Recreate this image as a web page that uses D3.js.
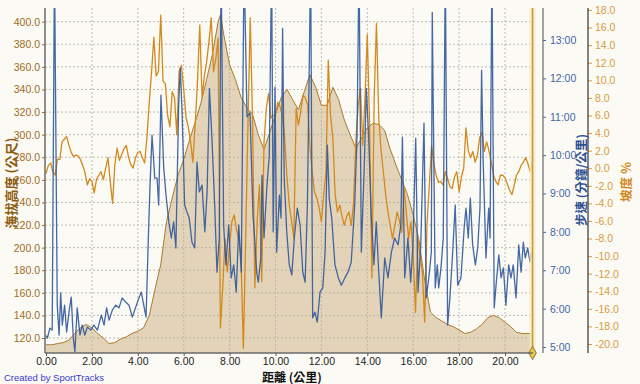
<!DOCTYPE html>
<html>
<head>
<meta charset="utf-8">
<script src="https://cdn.jsdelivr.net/npm/d3@7"></script>
<style>
  body { margin: 0; background: #fbfaf5; }
  svg { display: block; }
</style>
</head>
<body>
<div id="chart"></div>
<script>
// tick values / labels
const distTicks = [0, 2, 4, 6, 8, 10, 12, 14, 16, 18, 20];
const altTicks = [120, 140, 160, 180, 200, 220, 240, 260, 280, 300, 320, 340, 360, 380, 400];
const paceTicks = [5, 6, 7, 8, 9, 10, 11, 12, 13];
const paceTickLabels = ['5:00', '6:00', '7:00', '8:00', '9:00', '10:00', '11:00', '12:00', '13:00'];
const gradeTicks = [-20, -18, -16, -14, -12, -10, -8, -6, -4, -2, 0, 2, 4, 6, 8, 10, 12, 14, 16, 18];

// elevation profile [km, m]
const elevation = [[0,114],[0.25,114],[0.5,115],[0.75,116],[1,118],[1.25,124],[1.5,129],[1.75,132],[2,129],[2.25,124],[2.5,120],[2.75,115],[3,116],[3.25,119],[3.5,121],[3.75,124],[4,126],[4.25,129],[4.5,140],[4.75,163],[5,185],[5.25,223],[5.5,244],[5.75,264],[6,278],[6.25,295],[6.5,311],[6.75,328],[7,349],[7.25,371],[7.5,400],[7.6,406],[7.75,388],[8,362],[8.25,349],[8.5,333],[8.75,324],[9,318],[9.25,300],[9.5,287],[9.75,302],[10,318],[10.25,333],[10.5,340],[10.75,331],[11,322],[11.25,338],[11.5,353],[11.75,342],[12,326],[12.25,326],[12.5,342],[12.75,331],[13,313],[13.25,300],[13.5,288],[13.75,297],[14,306],[14.25,310],[14.5,309],[14.75,304],[15,287],[15.25,273],[15.5,260],[15.75,247],[16,229],[16.25,207],[16.5,171],[16.75,143],[17,138],[17.25,135],[17.5,132],[17.75,130],[18,127],[18.25,124],[18.5,125],[18.75,128],[19,132],[19.25,138],[19.5,140],[19.75,138],[20,134],[20.25,130],[20.5,125],[20.75,124],[21,124],[21.2,124]];

// pace [km, min/km]
const pace = [[0.00,5.30],[0.06,5.23],[0.17,5.49],[0.27,5.44],[0.37,15],[0.49,6.09],[0.57,5.31],[0.64,6.41],[0.71,5.57],[0.81,6.09],[0.90,5.39],[1.00,5.91],[1.10,6.30],[1.19,5.23],[1.26,4.87],[1.36,6.02],[1.48,5.31],[1.58,5.57],[1.69,5.31],[1.80,5.52],[1.95,5.44],[2.09,5.57],[2.24,5.44],[2.41,5.83],[2.53,5.57],[2.64,6.02],[2.75,5.70],[2.89,5.96],[3.04,6.09],[3.18,6.02],[3.32,6.28],[3.47,6.17],[3.62,6.09],[3.76,5.78],[3.91,6.04],[4.05,6.28],[4.15,6.43],[4.24,6.15],[4.36,5.78],[4.46,7.86],[4.53,9.17],[4.62,10.52],[4.74,9.40],[4.84,9.40],[4.91,8.70],[5.01,11.56],[5.13,9.66],[5.23,8.96],[5.35,8.26],[5.46,7.84],[5.56,8.26],[5.66,7.58],[5.78,11.30],[5.85,12.27],[5.93,11.12],[6.04,8.70],[6.14,8.52],[6.24,8.36],[6.36,7.73],[6.48,7.58],[6.58,9.82],[6.68,9.04],[6.80,9.22],[6.92,8.00],[7.02,9.04],[7.12,11.74],[7.23,10.44],[7.35,8.70],[7.45,6.95],[7.55,7.84],[7.63,15],[7.74,8.18],[7.84,7.14],[7.96,8.18],[8.07,6.80],[8.18,7.14],[8.29,6.43],[8.40,8.18],[8.51,6.95],[8.63,15],[8.76,11.00],[8.89,11.10],[9.02,8.44],[9.11,7.66],[9.18,6.95],[9.25,6.69],[9.36,7.32],[9.41,9.48],[9.50,7.84],[9.62,9.14],[9.73,10.00],[9.83,15],[9.90,8.00],[9.98,11.77],[10.05,7.47],[10.17,8.96],[10.24,8.36],[10.31,13.30],[10.38,9.40],[10.49,8.00],[10.60,7.14],[10.71,6.88],[10.82,7.84],[10.95,8.62],[11.07,8.18],[11.19,6.95],[11.29,6.69],[11.39,8.70],[11.53,15],[11.62,5.76],[11.72,5.91],[11.82,5.65],[11.94,6.43],[12.06,6.54],[12.16,7.47],[12.26,10.26],[12.34,8.88],[12.45,8.36],[12.59,7.14],[12.74,6.80],[12.87,6.61],[13.02,6.80],[13.16,6.95],[13.30,7.21],[13.45,8.70],[13.55,10.44],[13.64,15],[13.74,7.47],[13.86,9.56],[13.96,11.74],[14.06,10.44],[14.17,8.44],[14.29,7.14],[14.39,8.26],[14.50,6.95],[14.61,5.76],[14.76,7.32],[14.90,6.80],[15.05,7.47],[15.19,7.84],[15.34,7.66],[15.46,8.18],[15.53,10.47],[15.63,6.80],[15.77,7.84],[15.89,6.69],[15.99,7.66],[16.11,10.44],[16.21,6.43],[16.33,7.66],[16.47,10.83],[16.57,6.28],[16.68,6.80],[16.79,7.47],[16.83,13.72],[16.96,6.54],[17.05,7.14],[17.11,6.54],[17.21,7.06],[17.31,7.84],[17.40,15],[17.50,5.57],[17.60,6.28],[17.72,7.47],[17.83,8.70],[17.94,6.61],[18.08,6.80],[18.23,8.18],[18.30,8.62],[18.40,7.84],[18.49,8.88],[18.59,7.66],[18.71,7.14],[18.81,7.58],[18.91,8.62],[18.98,12.21],[19.05,9.82],[19.17,7.32],[19.29,8.62],[19.35,7.84],[19.43,15],[19.53,6.02],[19.61,6.61],[19.73,7.40],[19.83,6.80],[19.93,7.06],[20.04,6.09],[20.16,7.14],[20.26,6.80],[20.36,7.14],[20.48,6.28],[20.60,7.66],[20.70,6.95],[20.80,7.73],[20.88,7.32],[20.99,7.58],[21.09,7.21],[21.16,7.47]];

// grade %, one value every 0.1 km from 0.0 to 21.2
const gradeStep = 0.1;
const grade = [
  -0.6, 0.3, 0.6, -0.4, -0.8, 1.0, 1.0, 3.0, 3.3, 3.6,
  2.6, 1.8, 1.3, 1.5, 1.4, 1.0, 0.3, -0.5, -1.9, -1.2,
  -1.5, -2.8, -1.3, -0.8, -0.4, -1.3, 0.0, 1.2, -1.5, -4.0,
  0.4, 2.3, 0.9, 1.6, 2.2, 2.6, 1.2, 0.4, 0.0, 1.2,
  1.8, 1.9, 1.2, 0.6, 3.6, 7.5, 11.0, 14.9, 10.5, 11.0,
  17.4, 9.9, 9.6, 6.0, 4.7, 8.7, 8.0, 3.8, 11.0, 11.7,
  9.0, 5.8, 4.7, 3.0, 0.7, 5.0, 9.8, 16.3, 8.0, 10.5,
  12.1, 14.4, 17.1, 11.0, 12.5, 14.8, -18.2, -13.6, -8.0, -11.8,
  -8.7, -6.1, -5.3, -7.0, -8.0, -10.5, -20.5, -8.0, 5.0, 17.1,
  5.3, -13.6, -6.0, -1.9, -12.9, 3.0, 6.8, 8.5, 5.7, 6.0,
  6.0, 7.5, 7.0, 6.0, 3.4, -1.0, -4.2, -6.0, -8.0, 6.8,
  4.9, 6.5, 8.3, 8.0, 7.2, 2.6, -0.5, -2.7, -3.4, -4.5,
  -6.1, -3.0, -0.4, 12.3, 6.0, 3.4, -3.0, -5.0, -4.2, -5.5,
  -6.5, -5.5, -5.0, -6.5, -4.0, 3.0, 7.0, 9.1, 2.6, 8.0,
  15.2, 5.0, -12.5, 8.0, 16.5, 5.7, 2.0, -0.4, -3.0, -5.0,
  -6.5, -8.0, -6.5, -5.0, -6.0, -7.3, -2.3, -5.0, -8.0, -6.1,
  -10.0, -16.4, -8.0, -10.0, -11.8, -17.5, -6.5, -2.0, 2.6, 0.5,
  -0.8, -1.6, -1.5, -1.9, -0.4, -1.2, -2.1, -2.3, -1.0, -0.4,
  -2.7, -1.0, 0.0, 4.6, 2.0, 1.2, 1.9, 0.7, 1.5, 3.5,
  4.1, 1.9, 3.0, 2.0, 0.7, -0.8, -1.5, -1.9, -0.8, -0.8,
  -1.1, -1.8, -2.5, -3.0, -2.0, -0.8, -0.4, 0.3, 0.7, 1.2,
  0.5, -0.4, 0.7
];
const totalKm = 21.2;

const width = 640;
const height = 384;
const plot = { left: 45, right: 533, top: 8, bottom: 353 };

const svg = d3.select('#chart')
  .append('svg')
  .attr('width', width)
  .attr('height', height);

svg.append('rect')
  .attr('width', width)
  .attr('height', height)
  .attr('fill', '#fbfaf5');

// scales
const x = d3.scaleLinear().domain([0, 20]).range([46, 505]);
const yAlt = d3.scaleLinear().domain([120, 400]).range([338, 21.7]);
const yPace = d3.scaleLinear().domain([5, 13]).range([347, 40]);
const yGrade = d3.scaleLinear().domain([-20, 18]).range([344, 10]);

svg.append('defs').append('clipPath')
  .attr('id', 'plotClip')
  .append('rect')
  .attr('x', plot.left)
  .attr('y', plot.top)
  .attr('width', plot.right - plot.left)
  .attr('height', plot.bottom - plot.top);

const plotG = svg.append('g').attr('clip-path', 'url(#plotClip)');

// elevation fill
plotG.append('path')
  .datum(elevation)
  .attr('fill', '#e3d4b9')
  .attr('d', d3.area()
    .x(d => x(d[0]))
    .y0(plot.bottom)
    .y1(d => yAlt(d[1])));

// grid
plotG.selectAll('.hgrid')
  .data(altTicks)
  .enter()
  .append('line')
  .attr('x1', plot.left)
  .attr('x2', plot.right)
  .attr('y1', d => yAlt(d))
  .attr('y2', d => yAlt(d))
  .attr('stroke', '#b3ada1')
  .attr('stroke-dasharray', '2,2')
  .attr('opacity', 0.8);

plotG.selectAll('.vgrid')
  .data(distTicks.slice(1))
  .enter()
  .append('line')
  .attr('x1', d => x(d))
  .attr('x2', d => x(d))
  .attr('y1', plot.top)
  .attr('y2', plot.bottom)
  .attr('stroke', '#b3ada1')
  .attr('stroke-dasharray', '2,2')
  .attr('opacity', 0.8);

// elevation outline
plotG.append('path')
  .datum(elevation)
  .attr('fill', 'none')
  .attr('stroke', '#a87a2e')
  .attr('stroke-width', 1)
  .attr('d', d3.line().x(d => x(d[0])).y(d => yAlt(d[1])));

// grade line
plotG.append('path')
  .datum(grade)
  .attr('fill', 'none')
  .attr('stroke', '#d4891c')
  .attr('stroke-width', 1.3)
  .attr('stroke-linejoin', 'round')
  .attr('d', d3.line().x((d, i) => x(i * gradeStep)).y(d => yGrade(d)));

// pace line
plotG.append('path')
  .datum(pace)
  .attr('fill', 'none')
  .attr('stroke', '#30589b')
  .attr('stroke-width', 1.3)
  .attr('stroke-linejoin', 'round')
  .attr('opacity', 0.9)
  .attr('d', d3.line().x(d => x(d[0])).y(d => yPace(d[1])));

// end-of-track marker
const endX = x(totalKm);
svg.append('rect')
  .attr('x', endX - 3)
  .attr('y', plot.top)
  .attr('width', 6)
  .attr('height', plot.bottom - plot.top)
  .attr('fill', '#f6ebc4')
  .attr('opacity', 0.8);
svg.append('line')
  .attr('x1', endX).attr('x2', endX)
  .attr('y1', plot.top).attr('y2', plot.bottom)
  .attr('stroke', '#c99b38')
  .attr('stroke-width', 1.6);
svg.append('path')
  .attr('d', d3.symbol(d3.symbolDiamond, 50)())
  .attr('transform', `translate(${endX},${plot.bottom})`)
  .attr('fill', '#eac64a')
  .attr('stroke', '#6e5a1c')
  .attr('stroke-width', 0.8);

// axes
const font = 'Liberation Sans, Arial, sans-serif';

function styleAxis(g, color, tickColor) {
  g.select('.domain').remove();
  g.selectAll('text').attr('fill', color).attr('font-family', font).attr('font-size', 10.5);
  g.selectAll('line').attr('stroke', tickColor);
}

svg.append('g')
  .attr('transform', `translate(${plot.left},0)`)
  .call(d3.axisLeft(yAlt).tickValues(altTicks).tickFormat(d => d.toFixed(1)).tickSize(3).tickPadding(2))
  .call(g => styleAxis(g, '#a06c22', '#a06c22'));

svg.append('g')
  .attr('transform', `translate(0,${plot.bottom})`)
  .call(d3.axisBottom(x).tickValues(distTicks).tickFormat(d => d.toFixed(2)).tickSize(3).tickPadding(2))
  .call(g => styleAxis(g, '#222', '#555'));

svg.append('g')
  .attr('transform', 'translate(543,0)')
  .call(d3.axisRight(yPace).tickValues(paceTicks).tickFormat((d, i) => paceTickLabels[i]).tickSize(3).tickPadding(4))
  .call(g => styleAxis(g, '#3f66a8', '#3f66a8'));

svg.append('g')
  .attr('transform', 'translate(588,0)')
  .call(d3.axisRight(yGrade).tickValues(gradeTicks).tickFormat(d => d.toFixed(1)).tickSize(4).tickPadding(3))
  .call(g => styleAxis(g, '#d99a3c', '#d99a3c'));

// axis lines
const axisLines = [
  { x1: plot.left, y1: plot.top, x2: plot.left, y2: plot.bottom, c: '#6a6a6a', w: 1.5 },
  { x1: plot.left, y1: plot.bottom, x2: plot.right, y2: plot.bottom, c: '#6a6a6a', w: 1.5 },
  { x1: 543, y1: plot.top, x2: 543, y2: plot.bottom, c: '#6a6a6a', w: 1.2 },
  { x1: 588, y1: plot.top, x2: 588, y2: plot.bottom, c: '#333', w: 1.2 }
];
svg.selectAll('.axisLine')
  .data(axisLines)
  .enter()
  .append('line')
  .attr('x1', d => d.x1).attr('y1', d => d.y1)
  .attr('x2', d => d.x2).attr('y2', d => d.y2)
  .attr('stroke', d => d.c)
  .attr('stroke-width', d => d.w);

// titles
const cjk = 'Noto Sans CJK TC, Noto Sans, sans-serif';

svg.append('text')
  .attr('transform', 'translate(16,183) rotate(-90)')
  .attr('text-anchor', 'middle')
  .attr('font-family', cjk)
  .attr('font-size', 13)
  .attr('font-weight', 'bold')
  .attr('fill', '#8d5c12')
  .text('海拔高度 (公尺)');

svg.append('text')
  .attr('transform', 'translate(586,180) rotate(-90)')
  .attr('text-anchor', 'middle')
  .attr('font-family', cjk)
  .attr('font-size', 12.5)
  .attr('font-weight', 'bold')
  .attr('fill', '#2f5092')
  .text('步速 (分鐘/公里)');

svg.append('text')
  .attr('transform', 'translate(631,182) rotate(-90)')
  .attr('text-anchor', 'middle')
  .attr('font-family', cjk)
  .attr('font-size', 12.5)
  .attr('font-weight', 'bold')
  .attr('fill', '#d08a1e')
  .text('坡度 %');

svg.append('text')
  .attr('x', 292)
  .attr('y', 382)
  .attr('text-anchor', 'middle')
  .attr('font-family', cjk)
  .attr('font-size', 12)
  .attr('font-weight', 'bold')
  .attr('fill', '#111')
  .text('距離 (公里)');

svg.append('text')
  .attr('x', 4)
  .attr('y', 381)
  .attr('font-family', font)
  .attr('font-size', 9.5)
  .attr('fill', '#3a3ad0')
  .text('Created by SportTracks');
</script>
</body>
</html>
